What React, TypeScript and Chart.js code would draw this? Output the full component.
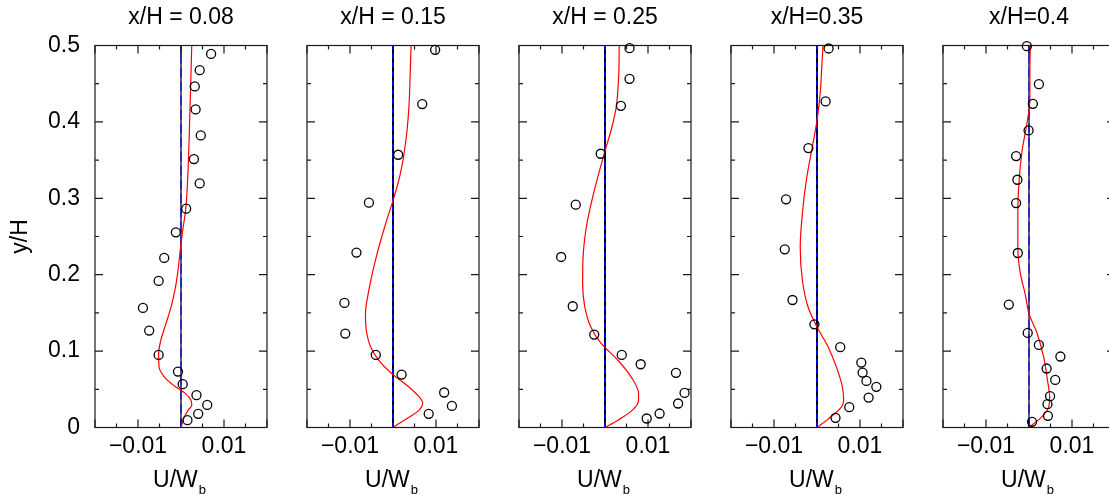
import React, { useEffect, useRef } from 'react';
import { Chart, registerables } from 'chart.js';

Chart.register(...registerables);

// ---------- data ----------
const panelTitles = ['x/H = 0.08', 'x/H = 0.15', 'x/H = 0.25', 'x/H=0.35', 'x/H=0.4'];
const yTickValues = [0, 0.1, 0.2, 0.3, 0.4, 0.5];
const yTickLabels = ['0', '0.1', '0.2', '0.3', '0.4', '0.5'];
const xTickValues = [-0.01, 0.01];
const xTickLabels = ['\u22120.01', '0.01'];
const zeroLineU = [0, 0];
const zeroLineY = [0, 0.5];

// x/H = 0.08
const expY08 = [0.0096, 0.0179, 0.0296, 0.0423, 0.0567, 0.0732, 0.095, 0.1269, 0.1565, 0.1918, 0.2219, 0.2555, 0.2864, 0.3195, 0.3513, 0.3823, 0.4163, 0.4464, 0.4677, 0.489];
const expU08 = [0.0015, 0.004, 0.0061, 0.0036, 0.0004, -0.0007, -0.0052, -0.0074, -0.00885, -0.0052, -0.0039, -0.0012, 0.0012, 0.00435, 0.003, 0.0046, 0.0034, 0.0032, 0.00435, 0.007];
const lesY08 = [0, 0.014, 0.023, 0.029, 0.036, 0.045, 0.053, 0.062, 0.071, 0.079, 0.097, 0.114, 0.136, 0.158, 0.18, 0.201, 0.236, 0.254, 0.286, 0.332, 0.419, 0.5];
const lesU08 = [0, 0.0008, 0.0017, 0.0025, 0.0023, 0.0009, -0.0012, -0.0032, -0.0045, -0.0051, -0.0052, -0.0047, -0.0035, -0.0023, -0.0014, -0.0008, -0.0001, 0.0003, 0.0011, 0.0016, 0.0021, 0.0025];

// x/H = 0.15
const expY15 = [0.0179, 0.0283, 0.0458, 0.0693, 0.095, 0.1229, 0.163, 0.2289, 0.2943, 0.357, 0.4233, 0.4943];
const expU15 = [0.0083, 0.0137, 0.0119, 0.002, -0.004, -0.0111, -0.0113, -0.0085, -0.0056, 0.0012, 0.0068, 0.0098];
const lesY15 = [0, 0.0096, 0.0227, 0.032, 0.04, 0.053, 0.0706, 0.088, 0.1055, 0.127, 0.149, 0.18, 0.223, 0.267, 0.297, 0.332, 0.376, 0.419, 0.463, 0.5];
const lesU15 = [0, 0.0026, 0.0061, 0.0069, 0.0061, 0.0037, -0.0003, -0.0033, -0.0052, -0.0062, -0.0064, -0.0056, -0.0039, -0.0017, 0, 0.0017, 0.003, 0.0037, 0.004, 0.0042];

// x/H = 0.25
const expY25 = [0.0118, 0.0183, 0.0314, 0.0453, 0.0715, 0.0828, 0.095, 0.1216, 0.1587, 0.2232, 0.2916, 0.3583, 0.4211, 0.4564, 0.4965];
const expU25 = [0.0097, 0.0127, 0.017, 0.0185, 0.0165, 0.0083, 0.0039, -0.0025, -0.0075, -0.0102, -0.0068, -0.001, 0.0037, 0.0057, 0.0057];
const lesY25 = [0, 0.0096, 0.0227, 0.0357, 0.0445, 0.066, 0.088, 0.11, 0.1316, 0.158, 0.188, 0.223, 0.267, 0.31, 0.358, 0.393, 0.419, 0.463, 0.5];
const lesU25 = [0, 0.003, 0.0064, 0.0078, 0.0078, 0.0061, 0.003, -0.0009, -0.0033, -0.0047, -0.0052, -0.0051, -0.0042, -0.0025, -0.0002, 0.0016, 0.0026, 0.0032, 0.0033];

// x/H = 0.35
const expY35 = [0.0126, 0.0266, 0.0392, 0.0532, 0.061, 0.0719, 0.085, 0.1051, 0.1351, 0.1669, 0.2332, 0.2986, 0.3657, 0.4268, 0.4961];
const expU35 = [0.0043, 0.0075, 0.012, 0.0138, 0.0115, 0.0106, 0.0103, 0.0054, -0.0006, -0.0057, -0.0075, -0.0072, -0.002, 0.002, 0.0027];
const lesY35 = [0, 0.0097, 0.027, 0.0357, 0.0532, 0.0793, 0.1055, 0.1316, 0.158, 0.1927, 0.236, 0.28, 0.323, 0.367, 0.402, 0.441, 0.4717, 0.5];
const lesU35 = [0, 0.0023, 0.0057, 0.0062, 0.0059, 0.0045, 0.0026, 0, -0.0021, -0.0034, -0.0039, -0.0034, -0.0025, -0.0011, 0, 0.0008, 0.0011, 0.0014];

// x/H = 0.4
const expY40 = [0.0074, 0.0153, 0.0305, 0.041, 0.0623, 0.0772, 0.0929, 0.1081, 0.1238, 0.1609, 0.2284, 0.2938, 0.3243, 0.3553, 0.3888, 0.4237, 0.4494, 0.4991];
const expU40 = [0.0007, 0.0044, 0.0043, 0.0049, 0.0061, 0.0041, 0.0073, 0.0023, -0.0003, -0.0047, -0.0026, -0.003, -0.0027, -0.003, -0.0001, 0.0009, 0.0023, -0.0005];
const lesY40 = [0, 0.005, 0.014, 0.027, 0.04, 0.0619, 0.0924, 0.123, 0.149, 0.175, 0.2014, 0.236, 0.28, 0.3235, 0.3627, 0.3976, 0.428, 0.463, 0.5];
const lesU40 = [0, 0.0011, 0.003, 0.0046, 0.0048, 0.0043, 0.0034, 0.0019, 0, -0.0009, -0.002, -0.0026, -0.0026, -0.0023, -0.0016, -0.0005, 0.0002, 0.0002, 0.0003];

const panels = [
  { expU: expU08, expY: expY08, lesU: lesU08, lesY: lesY08 },
  { expU: expU15, expY: expY15, lesU: lesU15, lesY: lesY15 },
  { expU: expU25, expY: expY25, lesU: lesU25, lesY: lesY25 },
  { expU: expU35, expY: expY35, lesU: lesU35, lesY: lesY35 },
  { expU: expU40, expY: expY40, lesU: lesU40, lesY: lesY40 },
];

// ---------- layout / style ----------
const H = 497;
const PANEL_LEFTS = [95, 307, 519, 731, 943];
const PLOT_W = 172;
const PLOT_BOTTOM = 427.5;
const FONT_SIZE = 23;
const FONT_FAMILY = '"Liberation Sans", Arial, Helvetica, sans-serif';
const ZERO_WIDTH = [1.2, 2, 2, 2, 1.2];
const BLUE_DASH = [[10, 4], [5, 4], [5, 4], [5, 4], [10, 4]];

Chart.defaults.font.family = FONT_FAMILY;

const pts = (xs: number[], ys: number[]) => xs.map((x, i) => ({ x, y: ys[i] }));

const framePlugin = {
  id: 'frameTicks',
  beforeDatasetsDraw(chart: any) {
    const { ctx, chartArea: a, scales } = chart;
    const xs = scales.x;
    const ys = scales.y;
    ctx.save();
    ctx.strokeStyle = '#1a1a1a';
    ctx.lineWidth = 1.2;
    ctx.strokeRect(a.left, a.top, a.right - a.left, a.bottom - a.top);
    ctx.beginPath();
    for (let k = -4; k <= 4; k++) {
      const px = xs.getPixelForValue(k * 0.005);
      const len = k % 2 === 0 ? 8 : 4;
      ctx.moveTo(px, a.bottom);
      ctx.lineTo(px, a.bottom - len);
      ctx.moveTo(px, a.top);
      ctx.lineTo(px, a.top + len);
    }
    for (let k = 0; k <= 10; k++) {
      const py = ys.getPixelForValue(k * 0.05);
      const len = k % 2 === 0 ? 8 : 4;
      ctx.moveTo(a.left, py);
      ctx.lineTo(a.left + len, py);
      ctx.moveTo(a.right, py);
      ctx.lineTo(a.right - len, py);
    }
    ctx.stroke();
    ctx.restore();
  },
  afterDraw(chart: any) {
    const { ctx, chartArea: a } = chart;
    const cx = (a.left + a.right) / 2;
    ctx.save();
    ctx.fillStyle = '#000';
    ctx.textBaseline = 'alphabetic';
    ctx.textAlign = 'left';
    ctx.font = `${FONT_SIZE}px ${FONT_FAMILY}`;
    const main = 'U/W';
    const w1 = ctx.measureText(main).width;
    ctx.font = `13px ${FONT_FAMILY}`;
    const w2 = ctx.measureText('b').width;
    const x0 = cx - (w1 + w2) / 2 - 2;
    ctx.font = `${FONT_SIZE}px ${FONT_FAMILY}`;
    ctx.fillText(main, x0, 487);
    ctx.font = `13px ${FONT_FAMILY}`;
    ctx.fillText('b', x0 + w1 + 1, 494);
    ctx.restore();
  },
};

function Panel({ idx }: { idx: number }) {
  const ref = useRef<HTMLCanvasElement>(null);
  const left = PANEL_LEFTS[idx];
  const canvasLeft = idx === 0 ? 0 : left - 30;
  const yAxisW = left - canvasLeft;
  const padRight = 12;
  const width = yAxisW + PLOT_W + padRight;

  useEffect(() => {
    const p = panels[idx];
    const lineH = FONT_SIZE * 1.2;
    const chart = new Chart(ref.current as HTMLCanvasElement, {
      type: 'line',
      data: {
        datasets: [
          {
            label: 'exp',
            data: pts(p.expU, p.expY),
            showLine: false,
            pointRadius: 4.5,
            pointBorderWidth: 1.3,
            pointBorderColor: '#000',
            pointBackgroundColor: 'rgba(0,0,0,0)',
            clip: false,
            order: 0,
          },
          {
            label: 'les',
            data: pts(p.lesU, p.lesY),
            indexAxis: 'y',
            borderColor: '#ff0000',
            borderWidth: 1.2,
            pointRadius: 0,
            cubicInterpolationMode: 'monotone',
            fill: false,
            order: 1,
          },
          {
            label: 'blue',
            data: pts(zeroLineU, zeroLineY),
            borderColor: '#0000ee',
            borderWidth: ZERO_WIDTH[idx],
            borderDash: BLUE_DASH[idx],
            pointRadius: 0,
            fill: false,
            order: 2,
          },
          {
            label: 'black',
            data: pts(zeroLineU, zeroLineY),
            borderColor: '#000',
            borderWidth: ZERO_WIDTH[idx],
            pointRadius: 0,
            fill: false,
            order: 3,
          },
        ],
      },
      options: {
        responsive: false,
        maintainAspectRatio: false,
        animation: false,
        layout: { padding: { left: 0, right: padRight, top: 0, bottom: 0 } },
        plugins: {
          legend: { display: false },
          tooltip: { enabled: false },
          title: {
            display: true,
            text: panelTitles[idx],
            fullSize: false,
            color: '#000',
            font: { size: FONT_SIZE, weight: 'normal', family: FONT_FAMILY },
            padding: { top: 4.2, bottom: 45.5 - 4.2 - lineH },
          },
        },
        scales: {
          x: {
            type: 'linear',
            min: -0.02,
            max: 0.02,
            grid: { display: false, drawTicks: false },
            border: { display: false },
            afterBuildTicks: (s: any) => {
              s.ticks = xTickValues.map((v) => ({ value: v }));
            },
            afterFit: (s: any) => {
              s.height = H - PLOT_BOTTOM;
            },
            ticks: {
              color: '#000',
              font: { size: FONT_SIZE, family: FONT_FAMILY },
              padding: 5.7,
              maxRotation: 0,
              autoSkip: false,
              callback: (_v: any, i: number) => xTickLabels[i],
            },
          },
          y: {
            type: 'linear',
            min: 0,
            max: 0.5,
            grid: { display: false, drawTicks: false },
            border: { display: false },
            afterBuildTicks: (s: any) => {
              s.ticks = yTickValues.map((v) => ({ value: v }));
            },
            afterFit: (s: any) => {
              s.width = yAxisW;
            },
            ticks: {
              display: idx === 0,
              color: '#000',
              font: { size: FONT_SIZE, family: FONT_FAMILY },
              padding: 15,
              autoSkip: false,
              callback: (_v: any, i: number) => yTickLabels[i],
            },
            title: {
              display: idx === 0,
              text: 'y/H',
              color: '#000',
              font: { size: FONT_SIZE, family: FONT_FAMILY },
              padding: { top: 7, bottom: 0 },
            },
          },
        },
      },
      plugins: [framePlugin],
    } as any);
    return () => chart.destroy();
  }, [idx]);

  return (
    <canvas
      ref={ref}
      width={width}
      height={H}
      style={{ position: 'absolute', left: canvasLeft, top: 0, width, height: H }}
    />
  );
}

export default function App() {
  return (
    <div
      style={{
        position: 'absolute',
        left: 0,
        top: 0,
        width: 1109,
        height: H,
        overflow: 'hidden',
        background: '#fff',
      }}
    >
      {[0, 1, 2, 3, 4].map((i) => (
        <Panel key={i} idx={i} />
      ))}
    </div>
  );
}
